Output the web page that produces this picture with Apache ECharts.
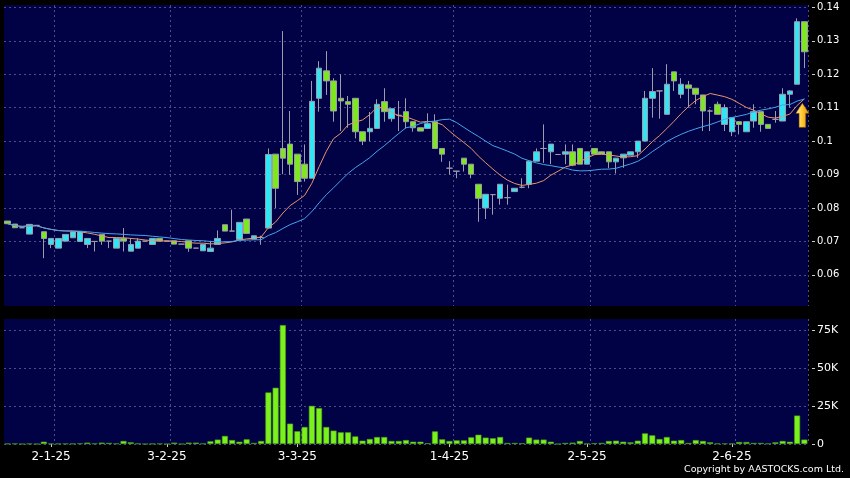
<!DOCTYPE html>
<html><head><meta charset="utf-8">
<script src="https://cdn.jsdelivr.net/npm/echarts@6/dist/echarts.min.js"></script>
<style>html,body{margin:0;padding:0;background:#000;}#c{width:850px;height:478px;}</style>
</head><body><div id="c"></div>
<script>
const dates = ['20-12-24','23-12-24','24-12-24','27-12-24','30-12-24','31-12-24',
'2-1-25','3-1-25','6-1-25','7-1-25','9-1-25','10-1-25','13-1-25','14-1-25','16-1-25','17-1-25','20-1-25','21-1-25','22-1-25','24-1-25','27-1-25','28-1-25',
'3-2-25','4-2-25','5-2-25','6-2-25','7-2-25','10-2-25','11-2-25','13-2-25','14-2-25','17-2-25','18-2-25','20-2-25','21-2-25','24-2-25','25-2-25','26-2-25','27-2-25','28-2-25',
'3-3-25','4-3-25','5-3-25','6-3-25','7-3-25','10-3-25','11-3-25','12-3-25','13-3-25','14-3-25','17-3-25','18-3-25','19-3-25','20-3-25','21-3-25','24-3-25','25-3-25','26-3-25','27-3-25','28-3-25','31-3-25',
'1-4-25','2-4-25','3-4-25','7-4-25','8-4-25','9-4-25','10-4-25','11-4-25','14-4-25','15-4-25','16-4-25','17-4-25','22-4-25','23-4-25','24-4-25','25-4-25','28-4-25','29-4-25','30-4-25',
'2-5-25','6-5-25','7-5-25','8-5-25','9-5-25','12-5-25','13-5-25','14-5-25','15-5-25','16-5-25','19-5-25','20-5-25','21-5-25','22-5-25','23-5-25','26-5-25','27-5-25','28-5-25','29-5-25','30-5-25',
'2-6-25','3-6-25','4-6-25','5-6-25','6-6-25','9-6-25','10-6-25','11-6-25','12-6-25','13-6-25','16-6-25'];

const opens = [
0.0761,0.0752,0.0741,0.0722,0.0748,0.0729,0.0691,0.0680,0.0701,0.0711,
0.0700,0.0691,0.0700,0.0721,0.0701,0.0680,0.0709,0.0671,0.0680,0.0701,
0.0691,0.0709,0.0701,0.0702,0.0692,0.0702,0.0680,0.0672,0.0670,0.0691,
0.0750,0.0731,0.0706,0.0767,0.0707,0.0712,0.0740,0.0961,0.0978,0.0991,
0.0961,0.0931,0.0889,0.1128,0.1210,0.1180,0.1128,0.1118,0.1128,0.1028,
0.1028,0.1038,0.1118,0.1067,0.1077,0.1088,0.1058,0.1040,0.1038,0.1058,
0.0978,0.0919,0.0910,0.0949,0.0931,0.0871,0.0800,0.0840,0.0829,0.0831,
0.0849,0.0862,0.0871,0.0940,0.0978,0.0968,0.0960,0.0961,0.0968,0.0978,
0.0931,0.0978,0.0968,0.0968,0.0938,0.0950,0.0958,0.0968,0.1000,0.1128,
0.1150,0.1080,0.1207,0.1140,0.1168,0.1158,0.1138,0.1090,0.1110,0.1050,
0.1028,0.1058,0.1028,0.1060,0.1088,0.1050,0.1065,0.1060,0.1140,0.1170,
0.1357];
const closes = [
0.0753,0.0741,0.0741,0.0751,0.0748,0.0709,0.0709,0.0709,0.0721,0.0729,
0.0729,0.0709,0.0700,0.0701,0.0701,0.0709,0.0701,0.0691,0.0701,0.0701,
0.0709,0.0701,0.0701,0.0692,0.0692,0.0680,0.0680,0.0691,0.0680,0.0709,
0.0731,0.0731,0.0757,0.0724,0.0717,0.0712,0.0960,0.0859,0.0949,0.0931,
0.0879,0.0889,0.1119,0.1218,0.1180,0.1090,0.1120,0.1110,0.1028,0.1000,
0.1038,0.1110,0.1088,0.1097,0.1077,0.1058,0.1040,0.1030,0.1052,0.0978,
0.0961,0.0919,0.0910,0.0931,0.0901,0.0829,0.0841,0.0840,0.0871,0.0831,
0.0859,0.0862,0.0940,0.0968,0.0978,0.0991,0.0960,0.0968,0.0928,0.0931,
0.0968,0.0961,0.0961,0.0938,0.0949,0.0961,0.0968,0.1000,0.1128,0.1148,
0.1150,0.1170,0.1180,0.1170,0.1158,0.1140,0.1090,0.1090,0.1080,0.1100,
0.1070,0.1050,0.1058,0.1088,0.1050,0.1038,0.1065,0.1140,0.1150,0.1357,
0.1267];
const lows = [
0.0753,0.0741,0.0741,0.0722,0.0748,0.0650,0.0680,0.0680,0.0701,0.0711,
0.0700,0.0680,0.0670,0.0690,0.0680,0.0680,0.0670,0.0671,0.0680,0.0701,
0.0691,0.0701,0.0701,0.0692,0.0692,0.0669,0.0680,0.0672,0.0670,0.0691,
0.0731,0.0731,0.0706,0.0724,0.0707,0.0690,0.0739,0.0800,0.0901,0.0899,
0.0839,0.0879,0.0889,0.1088,0.1138,0.1058,0.1030,0.1040,0.1008,0.0988,
0.1000,0.1038,0.1058,0.1058,0.1030,0.1038,0.1028,0.1030,0.1038,0.0978,
0.0938,0.0900,0.0889,0.0909,0.0889,0.0759,0.0767,0.0780,0.0810,0.0810,
0.0849,0.0859,0.0859,0.0940,0.0935,0.0931,0.0960,0.0931,0.0925,0.0931,
0.0931,0.0961,0.0961,0.0919,0.0903,0.0920,0.0958,0.0950,0.1000,0.1070,
0.1067,0.1080,0.1150,0.1128,0.1100,0.1110,0.1030,0.1030,0.1080,0.1030,
0.1015,0.1020,0.1028,0.1040,0.1028,0.1038,0.1055,0.1060,0.1100,0.1170,
0.1218];
const highs = [
0.0761,0.0752,0.0741,0.0751,0.0748,0.0729,0.0709,0.0709,0.0721,0.0729,
0.0729,0.0709,0.0701,0.0721,0.0701,0.0709,0.0740,0.0710,0.0710,0.0701,
0.0709,0.0709,0.0701,0.0702,0.0692,0.0702,0.0680,0.0691,0.0702,0.0733,
0.0750,0.0795,0.0757,0.0767,0.0717,0.0717,0.0978,0.0961,0.1329,0.1090,
0.0961,0.0990,0.1180,0.1239,0.1269,0.1188,0.1200,0.1135,0.1128,0.1028,
0.1087,0.1125,0.1158,0.1097,0.1120,0.1128,0.1058,0.1040,0.1083,0.1080,
0.0978,0.0940,0.0910,0.0949,0.0931,0.0871,0.0841,0.0841,0.0871,0.0870,
0.0859,0.0889,0.0940,0.0978,0.1050,0.0991,0.0960,0.0990,0.0990,0.0978,
0.0968,0.0978,0.0968,0.0968,0.0949,0.0961,0.0968,0.1000,0.1150,0.1218,
0.1150,0.1230,0.1207,0.1188,0.1180,0.1158,0.1138,0.1095,0.1118,0.1110,
0.1070,0.1060,0.1058,0.1110,0.1088,0.1050,0.1090,0.1158,0.1152,0.1367,
0.1357];
const volumes = [
200,300,0,200,0,1500,200,200,200,200,
400,900,300,900,700,300,2000,1100,300,0,
200,200,0,900,0,900,900,300,1800,2900,
5300,2600,1500,3100,700,2000,33900,37000,78200,13400,
8400,11200,25100,23600,11200,8800,7700,7700,5000,2200,
3300,4600,4600,2000,2000,2600,1500,1500,500,8300,
3100,2000,2400,2400,4400,6100,4200,3800,4600,700,
700,500,4200,2900,2900,1500,0,700,900,2000,
300,500,700,2000,2200,1500,1100,2200,7000,5700,
3300,4600,2200,2600,700,2600,2000,1100,300,300,
300,1300,1300,700,700,300,1100,2000,1500,18700,
2900];

const priceTicks = [0.06,0.07,0.08,0.09,0.1,0.11,0.12,0.13,0.14];
const volumeTicks = [0,25000,50000,75000];
const dateTickLabels = ['2-1-25','3-2-25','3-3-25','1-4-25','2-5-25','2-6-25'];
const maPeriods = [10, 20];

function sma(arr, n) {
  return arr.map((_, i) => {
    const s = Math.max(0, i - n + 1);
    let sum = 0;
    for (let k = s; k <= i; k++) sum += arr[k];
    return +(sum / (i - s + 1)).toFixed(5);
  });
}

const candleData = dates.map((d, i) => [opens[i], closes[i], lows[i], highs[i]]);
const isLabel = (i, v) => dateTickLabels.indexOf(dates[i]) >= 0;
const isGrid = (i, v) => i > 0 && dateTickLabels.indexOf(dates[i - 1]) >= 0;

const gridLine = { show: true, lineStyle: { color: '#4c4c8e', type: [2, 3], width: 1 } };
const FONT = 'DejaVu Sans';

const chart = echarts.init(document.getElementById('c'), null, { renderer: 'canvas' });
chart.setOption({
  backgroundColor: '#000000',
  animation: false,
  grid: [
    { left: 4, right: 42, top: 5, height: 301, show: true, backgroundColor: '#010146', borderWidth: 0 },
    { left: 4, right: 42, top: 319, height: 125, show: true, backgroundColor: '#010146', borderWidth: 0 }
  ],
  xAxis: [
    { type: 'category', gridIndex: 0, data: dates, boundaryGap: true,
      axisLine: { show: false }, axisTick: { show: false }, axisLabel: { show: false },
      splitLine: Object.assign({ interval: isGrid }, gridLine) },
    { type: 'category', gridIndex: 1, data: dates, boundaryGap: true, offset: 2,
      axisLine: { show: false },
      axisTick: { show: true, alignWithLabel: true, interval: isLabel, length: 3, lineStyle: { color: '#cccccc' } },
      axisLabel: { interval: isLabel, color: '#ffffff', fontFamily: FONT, fontSize: 12, margin: 5 },
      splitLine: Object.assign({ interval: isGrid }, gridLine) }
  ],
  yAxis: [
    { type: 'value', gridIndex: 0, position: 'right', min: 0.0507, max: 0.14069, splitNumber: 9, offset: 4,
      axisLine: { show: false },
      axisTick: { show: true, length: 3, lineStyle: { color: '#cccccc' }, customValues: priceTicks },
      axisLabel: { color: '#ffffff', fontFamily: FONT, fontSize: 10, margin: 5, customValues: priceTicks },
      splitLine: gridLine },
    { type: 'value', gridIndex: 1, position: 'right', min: 0, max: 82200, interval: 25000, offset: 4,
      axisLine: { show: false },
      axisTick: { show: true, length: 3, lineStyle: { color: '#cccccc' }, customValues: volumeTicks },
      axisLabel: { color: '#ffffff', fontFamily: FONT, fontSize: 11, margin: 5, customValues: volumeTicks,
        formatter: v => v === 0 ? '0' : (v / 1000) + 'K' },
      splitLine: gridLine }
  ],
  series: [
    { type: 'candlestick', xAxisIndex: 0, yAxisIndex: 0, data: candleData, barWidth: 6,
      itemStyle: { color: '#30e6f4', color0: '#7ee81f', borderColor: '#9c9cab', borderColor0: '#9c9cab', borderWidth: 1 },
      markPoint: {
        silent: true,
        label: { show: false },
        data: [{
          coord: [dates[dates.length - 1], 0.1077],
          symbol: 'path://M6,0 L12,10 L9,10 L9,24 L3,24 L3,10 L0,10 Z',
          symbolSize: [13, 24], symbolOffset: [-2, 0], symbolKeepAspect: false,
          itemStyle: { color: { type: 'linear', x: 0, y: 0, x2: 1, y2: 0,
            colorStops: [{ offset: 0, color: '#fff09a' }, { offset: 0.5, color: '#ffc830' }, { offset: 1, color: '#e09000' }] },
            borderColor: '#a06a00', borderWidth: 0.5 }
        }]
      } },
    { type: 'line', xAxisIndex: 0, yAxisIndex: 0, data: sma(closes, maPeriods[0]), showSymbol: false,
      lineStyle: { color: '#e8956c', width: 1 }, z: 3 },
    { type: 'line', xAxisIndex: 0, yAxisIndex: 0, data: sma(closes, maPeriods[1]), showSymbol: false,
      lineStyle: { color: '#45a4ec', width: 1 }, z: 3 },
    { type: 'bar', xAxisIndex: 1, yAxisIndex: 1, data: volumes, barWidth: 6,
      itemStyle: { color: '#7cf01c', borderColor: '#4aa010', borderWidth: 0.6 } }
  ],
  graphic: [
    { type: 'text', right: 6, top: 465,
      style: { text: 'Copyright by AASTOCKS.com Ltd.', fill: '#ffffff', font: '9.5px "DejaVu Sans"' } }
  ]
});
</script>
</body></html>
